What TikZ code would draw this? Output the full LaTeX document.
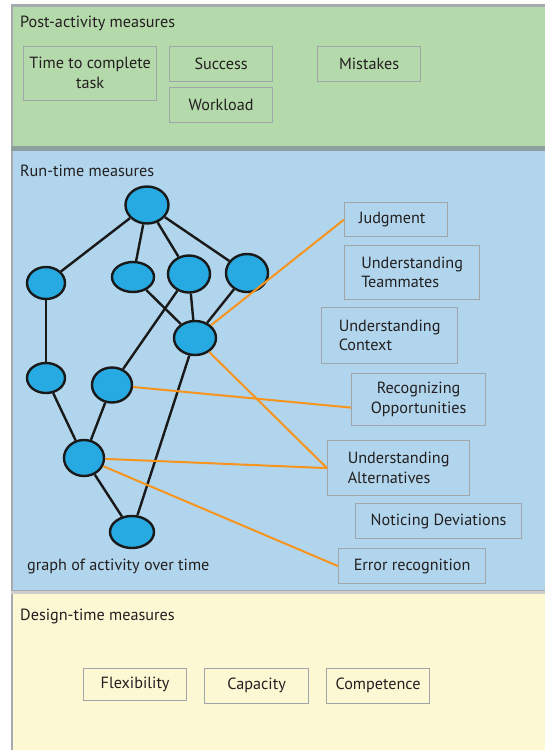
\documentclass[tikz,border=0pt]{standalone}
\usepackage{fontspec}
\setmainfont{PT Sans}
\usetikzlibrary{shapes.geometric}
\definecolor{greenbg}{RGB}{180,217,171}
\definecolor{bluebg}{RGB}{177,213,236}
\definecolor{yellowbg}{RGB}{253,248,212}
\definecolor{nodefill}{RGB}{39,170,225}
\definecolor{orangeln}{RGB}{247,148,29}
\definecolor{boxc}{RGB}{160,165,170}
\definecolor{txt}{RGB}{35,31,32}
\definecolor{frame}{RGB}{167,169,172}
\definecolor{sepone}{RGB}{140,160,160}
\definecolor{septwo}{RGB}{205,205,205}
\tikzset{
  mbox/.style={draw=boxc, line width=1.2pt, inner sep=0pt, align=center, anchor=north west},
  gnode/.style={ellipse, draw=black!90, fill=nodefill, line width=2.4pt, inner sep=0pt},
  edge/.style={draw=black!90, line width=2.4pt},
  oline/.style={draw=orangeln, line width=2pt},
  title/.style={anchor=base west, inner sep=0pt}
}
\begin{document}
\begin{tikzpicture}[x=1pt,y=-1pt, font=\fontsize{16.2}{19.5}\selectfont, text=txt]
\useasboundingbox (0,0) rectangle (545,750);
\fill[white] (0,0) rectangle (545,750);
% panels
\fill[greenbg] (11,5) rectangle (545,148);
\fill[bluebg] (11,148) rectangle (545,591);
\fill[yellowbg] (11,591) rectangle (545,750);
\draw[frame, line width=2.5pt] (11,5.5) -- (545,5.5);
\draw[frame, line width=2pt] (12,5) -- (12,750);
\draw[sepone, line width=5pt] (11,148) -- (545,148);
\draw[septwo, line width=4pt] (11,592) -- (545,592);
\draw[frame, line width=1pt] (11,590) -- (545,590);

% titles
\node[title] (tpost) at (20,27.5) {Post-activity measures};
\node[title] (trun) at (20,176) {Run-time measures};
\node[title] (tdes) at (20,620) {Design-time measures};
\node[title] (tgraph) at (27,570) {graph of activity over time};

% post-activity boxes
\node[mbox, minimum width=133, minimum height=54] (time) at (23,45.5) {Time to complete\\task};
\node[mbox, minimum width=103, minimum height=35] (succ) at (169,45.5) {Success};
\node[mbox, minimum width=103, minimum height=35] (work) at (169,86.5) {Workload};
\node[mbox, minimum width=103, minimum height=35] (mist) at (317,45.5) {Mistakes};

% run-time boxes
\node[mbox, minimum width=103, minimum height=34] (judg) at (344,202) {Judgment\hspace{8pt}};
\node[mbox, minimum width=135, minimum height=54, align=left] (team) at (344,245) {Understanding\\Teammates};
\node[mbox, minimum width=136, minimum height=56, align=left] (ctx) at (321,307) {Understanding\\Context};
\node[mbox, minimum width=134, minimum height=52] (rec) at (351,373) {Recognizing\\Opportunities};
\node[mbox, minimum width=142, minimum height=55, align=left] (alt) at (327,440) {Understanding\\Alternatives};
\node[mbox, minimum width=166, minimum height=35] (dev) at (355,503) {Noticing Deviations};
\node[mbox, minimum width=147, minimum height=35] (err) at (338,548) {Error recognition};

% design-time boxes
\node[mbox, minimum width=103, minimum height=32.5] (flex) at (83,667.7) {Flexibility};
\node[mbox, minimum width=104, minimum height=35] (cap) at (204,667.7) {Capacity};
\node[mbox, minimum width=103, minimum height=35] (comp) at (326,667.7) {Competence};

% graph nodes
\node[gnode, minimum width=43, minimum height=37] (n1) at (147,205) {};
\node[gnode, minimum width=38, minimum height=32] (a) at (46,283) {};
\node[gnode, minimum width=42, minimum height=30] (b) at (133,277) {};
\node[gnode, minimum width=42, minimum height=37] (c) at (189,274) {};
\node[gnode, minimum width=42, minimum height=38] (d) at (247,273) {};
\node[gnode, minimum width=42, minimum height=34] (e) at (195,338) {};
\node[gnode, minimum width=38, minimum height=30] (f) at (46,378) {};
\node[gnode, minimum width=40, minimum height=35] (g) at (112,385) {};
\node[gnode, minimum width=40, minimum height=36] (h) at (84,458) {};
\node[gnode, minimum width=44, minimum height=32] (i) at (132,532) {};

% black edges
\draw[edge] (n1) -- (a);
\draw[edge] (n1) -- (b);
\draw[edge] (n1) -- (c);
\draw[edge] (n1) -- (d);
\draw[edge] (a) -- (f);
\draw[edge] (b) -- (e);
\draw[edge] (c) -- (e);
\draw[edge] (d) -- (e);
\draw[edge] (c) -- (g);
\draw[edge] (f) -- (h);
\draw[edge] (g) -- (h);
\draw[edge] (h) -- (i);
\draw[edge] (e) -- (i);

% orange links
\draw[oline] (e) -- (judg.west);
\draw[oline] (e) -- (alt.west);
\draw[oline] (g) -- ([yshift=-8pt]rec.west);
\draw[oline] (h) -- (alt.west);
\draw[oline] (h) -- (err.west);
\end{tikzpicture}
\end{document}
